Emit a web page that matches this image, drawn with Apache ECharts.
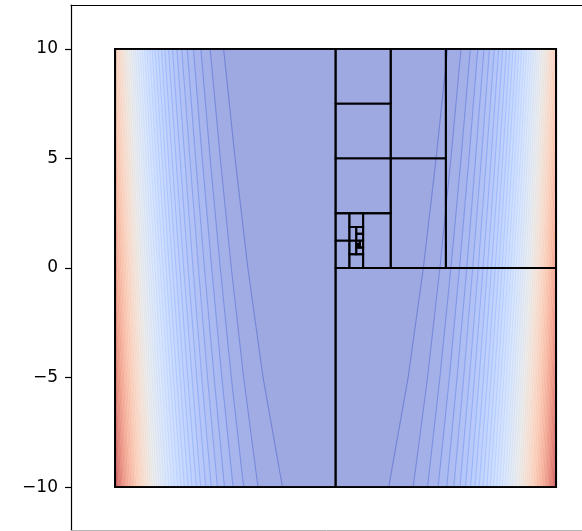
<!DOCTYPE html>
<html><head><meta charset="utf-8">
<script src="https://cdn.jsdelivr.net/npm/echarts@6/dist/echarts.min.js"></script>
<style>html,body{margin:0;padding:0;background:#fff}#c{width:582px;height:531px}</style>
</head><body><div id="c"></div>
<script>
// ---- data ----
const domain = [-10, 10];                 // plotted square
const xView = [-12, 11.175];              // visible x window (axes continue past the right edge)
const yView = [-12, 12];
const yRows = [10, 5, 0, -5, -10];        // rows where contour crossings were read
const levels = [25000,50000,75000,100000,125000,150000,175000,200000,225000,250000,
  275000,300000,325000,350000,375000,400000,425000,450000,475000,500000,525000,550000,
  575000,600000,625000,650000,675000,700000,725000,750000,775000,800000,825000,850000,
  875000,900000,925000,950000,975000,1000000,1025000,1050000,1075000,1100000,1125000,
  1150000,1175000,1200000];
const levelTop = 1225000;
// |x| of each contour line at the rows above (lines mirror about x = 0)
const halfWidths = [
  [5.08,4.56,3.98,3.29,2.41],[5.69,5.23,4.73,4.17,3.52],[6.11,5.69,5.23,4.73,4.17],
  [6.45,6.05,5.62,5.16,4.65],[6.73,6.35,5.95,5.51,5.04],[6.98,6.61,6.22,5.81,5.36],
  [7.20,6.84,6.47,6.07,5.64],[7.40,7.05,6.69,6.30,5.89],[7.58,7.24,6.89,6.51,6.12],
  [7.75,7.42,7.07,6.71,6.32],[7.90,7.58,7.24,6.89,6.51],[8.05,7.73,7.40,7.05,6.69],
  [8.19,7.87,7.55,7.21,6.86],[8.32,8.01,7.69,7.36,7.01],[8.44,8.14,7.83,7.50,7.16],
  [8.56,8.26,7.95,7.63,7.30],[8.67,8.38,8.07,7.76,7.43],[8.78,8.49,8.19,7.88,7.56],
  [8.88,8.60,8.30,8.00,7.68],[8.98,8.70,8.41,8.11,7.79],[9.08,8.80,8.51,8.21,7.90],
  [9.17,8.90,8.61,8.32,8.01],[9.26,8.99,8.71,8.42,8.11],[9.35,9.08,8.80,8.51,8.21],
  [9.44,9.17,8.89,8.61,8.31],[9.52,9.25,8.98,8.70,8.40],[9.60,9.34,9.06,8.78,8.49],
  [9.68,9.42,9.15,8.87,8.58],[9.75,9.49,9.23,8.95,8.67],[9.83,9.57,9.31,9.03,8.75],
  [9.90,9.65,9.38,9.11,8.83],[9.97,9.72,9.46,9.19,8.91],[10.04,9.79,9.53,9.26,8.99],
  [10.11,9.86,9.60,9.34,9.07],[10.18,9.93,9.67,9.41,9.14],[10.24,9.99,9.74,9.48,9.21],
  [10.30,10.06,9.81,9.55,9.28],[10.37,10.12,9.87,9.62,9.35],[10.43,10.19,9.94,9.68,9.42],
  [10.49,10.25,10.00,9.75,9.49],[10.55,10.31,10.06,9.81,9.55],[10.61,10.37,10.12,9.87,9.62],
  [10.66,10.42,10.18,9.93,9.68],[10.72,10.48,10.24,9.99,9.74],[10.77,10.54,10.30,10.05,9.80],
  [10.83,10.59,10.36,10.11,9.86],[10.88,10.65,10.41,10.17,9.92],[10.93,10.70,10.47,10.22,9.98]
];
// partition rectangles [x0, y0, x1, y1]
const rects = [
  [-10,-10,10,10],[-10,-10,0,10],[0,-10,10,0],[5,0,10,10],[2.5,5,5,10],
  [0,7.5,2.5,10],[0,5,2.5,7.5],[2.5,0,5,5],[0,2.5,2.5,5],[1.25,0,2.5,2.5],
  [0,1.25,0.625,2.5],[0,0,0.625,1.25],[0.625,1.875,1.25,2.5],[0.625,0,1.25,0.625],
  [0.625,1.25,0.9375,1.875],[0.625,0.625,0.9375,1.25],[0.9375,1.5625,1.25,1.875],
  [0.9375,1.25,1.25,1.5625],[0.9375,0.625,1.25,0.9375],[1.09375,0.9375,1.25,1.25],
  [0.9375,1.09375,1.09375,1.25],[0.9375,0.9375,1.015625,1.09375],
  [1.015625,0.9375,1.09375,1.015625],[1.015625,1.015625,1.09375,1.09375]
];
const yTicks = [-10, -5, 0, 5, 10];

// ---- styling helpers ----
const coolwarm = [[59,76,192],[68,90,204],[77,104,215],[87,117,225],[98,130,234],[108,142,241],
 [119,154,247],[130,165,251],[141,176,254],[152,185,255],[163,194,255],[174,201,253],[184,208,249],
 [194,213,244],[204,217,238],[213,219,230],[221,221,221],[229,216,209],[236,211,197],[241,204,184],
 [245,196,172],[247,187,160],[247,177,148],[247,166,135],[244,154,123],[241,141,111],[236,127,99],
 [229,112,88],[222,96,77],[213,80,66],[203,62,56],[192,40,47],[180,4,38]];
function cmap(t){
  t=Math.max(0,Math.min(1,t)); const p=t*(coolwarm.length-1); const i=Math.min(Math.floor(p),coolwarm.length-2); const f=p-i;
  return coolwarm[i].map((c,j)=>c+(coolwarm[i+1][j]-c)*f);
}
function rgb(c){return 'rgb('+c.map(v=>Math.round(v)).join(',')+')';}
function fillColor(lo,hi){ const c=cmap(((lo+hi)/2)/levelTop); return rgb(c.map(v=>v*0.5+255*0.5)); }
function lineColor(L){ return rgb(cmap(L/levelTop)); }

function clipPolyX(poly, xmin, xmax){
  function clipEdge(pts, inside, inter){
    const out=[]; for(let i=0;i<pts.length;i++){const a=pts[i], b=pts[(i+1)%pts.length];
      const ia=inside(a), ib=inside(b);
      if(ia&&ib) out.push(b); else if(ia&&!ib) out.push(inter(a,b)); else if(!ia&&ib){out.push(inter(a,b)); out.push(b);} }
    return out;
  }
  const ix=(x)=>(a,b)=>{const t=(x-a[0])/(b[0]-a[0]); return [x,a[1]+(b[1]-a[1])*t];};
  let p=clipEdge(poly,q=>q[0]>=xmin,ix(xmin)); p=clipEdge(p,q=>q[0]<=xmax,ix(xmax)); return p;
}
function clipLineX(pts, xmin, xmax){
  const out=[];
  for(let i=0;i<pts.length-1;i++){
    const a=pts[i], b=pts[i+1]; const dx=b[0]-a[0]; let t0=0,t1=1;
    if(dx===0){ if(a[0]<xmin||a[0]>xmax) continue; }
    else { const ta=(xmin-a[0])/dx, tb=(xmax-a[0])/dx; t0=Math.max(0,Math.min(ta,tb)); t1=Math.min(1,Math.max(ta,tb)); if(t0>t1) continue; }
    const p=[a[0]+dx*t0,a[1]+(b[1]-a[1])*t0], q=[a[0]+dx*t1,a[1]+(b[1]-a[1])*t1];
    if(!out.length) out.push(p); out.push(q);
  }
  return out;
}

const chart = echarts.init(document.getElementById('c'), null, {renderer:'canvas'});
const bandData = levels.map((L,i)=>[i]);
const hiddenAxis = {axisTick:{show:false},axisLabel:{show:false},splitLine:{show:false}};

chart.setOption({
  animation:false,
  grid:{left:71,top:5,right:0,height:526,show:false},
  xAxis:[
    Object.assign({type:'value',min:xView[0],max:xView[1],position:'bottom',offset:-1,
      axisLine:{show:true,onZero:false,lineStyle:{color:'#b4b4b4',width:1}}},hiddenAxis),
    Object.assign({type:'value',min:xView[0],max:xView[1],position:'top',
      axisLine:{show:true,onZero:false,lineStyle:{color:'#000',width:1.2}}},hiddenAxis)
  ],
  yAxis:{type:'value',min:yView[0],max:yView[1],
    axisLine:{show:true,onZero:false,lineStyle:{color:'#000',width:1.2}},
    axisTick:{show:true,length:6,inside:false,customValues:yTicks,lineStyle:{color:'#000',width:1.2}},
    axisLabel:{customValues:yTicks,margin:13,color:'#000',fontFamily:'DejaVu Sans',fontSize:17,
      formatter:v=>String(v).replace('-','\u2212')},
    splitLine:{show:false}},
  series:[
    { // lowest band background
      type:'custom',name:'base',clip:false,data:[[domain[0],domain[1]]],z:1,
      renderItem:(p,api)=>{const a=api.coord([domain[0],domain[1]]), b=api.coord([domain[1],domain[0]]);
        return {type:'rect',shape:{x:a[0],y:a[1],width:b[0]-a[0],height:b[1]-a[1]},style:{fill:fillColor(0,levels[0])}};}
    },
    { // filled contour bands
      type:'custom',name:'bands',clip:false,data:bandData,z:2,
      renderItem:(p,api)=>{
        const i=api.value(0); const hw=halfWidths[i]; const hi=i+1<levels.length?levels[i+1]:levelTop;
        const col=fillColor(levels[i],hi);
        const left=clipPolyX(yRows.map((y,j)=>[-hw[j],y]).concat([[-30,domain[0]],[-30,domain[1]]]),domain[0],domain[1]);
        const right=clipPolyX(yRows.map((y,j)=>[hw[j],y]).concat([[30,domain[0]],[30,domain[1]]]),domain[0],domain[1]);
        const mk=pts=>({type:'polygon',shape:{points:pts.map(q=>api.coord(q))},style:{fill:col,stroke:col,lineWidth:0.3}});
        const ch=[]; if(left.length>2) ch.push(mk(left)); if(right.length>2) ch.push(mk(right));
        return {type:'group',children:ch};
      }
    },
    { // contour lines
      type:'custom',name:'lines',clip:false,data:bandData,z:3,
      renderItem:(p,api)=>{
        const i=api.value(0); const hw=halfWidths[i]; const col=lineColor(levels[i]);
        const ch=[];
        [-1,1].forEach(s=>{const pts=clipLineX(yRows.map((y,j)=>[s*hw[j],y]),domain[0],domain[1]);
          if(pts.length>1) ch.push({type:'polyline',shape:{points:pts.map(q=>api.coord(q))},style:{stroke:col,lineWidth:1.1,opacity:0.45,fill:null}});});
        return {type:'group',children:ch};
      }
    },
    { // partition rectangles
      type:'custom',name:'rects',clip:false,data:rects,z:4,
      renderItem:(p,api)=>{
        const a=api.coord([api.value(0),api.value(3)]), b=api.coord([api.value(2),api.value(1)]);
        return {type:'rect',shape:{x:a[0],y:a[1],width:b[0]-a[0],height:b[1]-a[1]},style:{fill:null,stroke:'#000',lineWidth:1.9}};
      }
    }
  ]
});
</script></body></html>
